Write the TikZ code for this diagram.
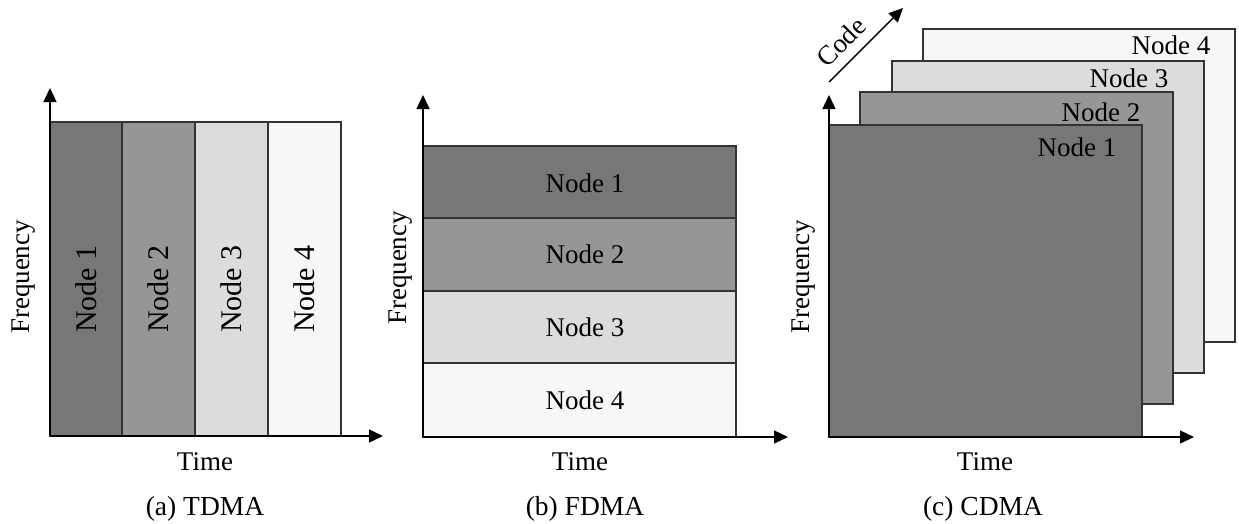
\documentclass[tikz,border=0pt]{standalone}
\usepackage{fontspec}
\setmainfont{Liberation Serif}
\usetikzlibrary{arrows.meta}
\definecolor{gA}{HTML}{777777}
\definecolor{gB}{HTML}{969696}
\definecolor{gC}{HTML}{DCDCDC}
\definecolor{gD}{HTML}{F7F7F7}
\definecolor{edge}{HTML}{333333}
\begin{document}
\begin{tikzpicture}[x=1pt,y=-1pt,
  axis/.style={line width=1.4pt,-{Triangle[length=14pt,width=13pt]}},
  band/.style={draw=edge,line width=1.3pt},
  lbl/.style={font=\fontsize{27}{32}\selectfont,inner sep=0pt},
  biglbl/.style={font=\fontsize{30}{36}\selectfont,inner sep=0pt,rotate=90},
  captxt/.style={font=\fontsize{27.5}{32}\selectfont,inner sep=0pt,anchor=base}]
\useasboundingbox (0,0) rectangle (1239,523);
% ---------- (a) TDMA ----------
\coordinate (ao) at (50,436);
\coordinate (ay) at (50,88);
\coordinate (ax) at (383,436);
\fill[gA] (50,122) rectangle (122,436);
\fill[gB] (122,122) rectangle (195,436);
\fill[gC] (195,122) rectangle (268,436);
\fill[gD] (268,122) rectangle (341,436);
\draw[band] (50,122) rectangle (341,436);
\draw[band] (122,122) -- (122,436) (195,122) -- (195,436) (268,122) -- (268,436);
\node[biglbl] (a1) at (86,289) {Node 1};
\node[biglbl] (a2) at (158,289) {Node 2};
\node[biglbl] (a3) at (231,289) {Node 3};
\node[biglbl] (a4) at (304,289) {Node 4};
\draw[axis] (ao) -- (ay);
\draw[axis] (ao) -- (ax);
\node[lbl,rotate=90] (af) at (24,277) {Frequency};
\node[lbl,anchor=base] (at) at (205,470) {Time};
\node[captxt] (ac) at (205,515) {(a) TDMA};
% ---------- (b) FDMA ----------
\coordinate (bo) at (423,437);
\coordinate (by) at (423,95);
\coordinate (bx) at (788,437);
\fill[gA] (423,146) rectangle (736,218);
\fill[gB] (423,218) rectangle (736,291);
\fill[gC] (423,291) rectangle (736,363);
\fill[gD] (423,363) rectangle (736,437);
\draw[band] (423,146) rectangle (736,437);
\draw[band] (423,218) -- (736,218) (423,291) -- (736,291) (423,363) -- (736,363);
\node[lbl] (b1) at (585,183) {Node 1};
\node[lbl] (b2) at (585,254) {Node 2};
\node[lbl] (b3) at (585,327) {Node 3};
\node[lbl] (b4) at (585,400) {Node 4};
\draw[axis] (bo) -- (by);
\draw[axis] (bo) -- (bx);
\node[lbl,rotate=90] (bf) at (401,268) {Frequency};
\node[lbl,anchor=base] (bt) at (580,470) {Time};
\node[captxt] (bc) at (585,515) {(b) FDMA};
% ---------- (c) CDMA ----------
\coordinate (co) at (829,437);
\coordinate (cy) at (829,95);
\coordinate (cx) at (1194,437);
\coordinate (cs) at (829,82);
\coordinate (ce) at (903,8);
\draw[band,fill=gD] (923,29) rectangle (1235,342);
\draw[band,fill=gC] (892,61) rectangle (1204,373);
\draw[band,fill=gB] (860,92) rectangle (1173,404);
\draw[band,fill=gA] (829,125) rectangle (1142,437);
\node[lbl] (c4) at (1171,45) {Node 4};
\node[lbl] (c3) at (1129,78) {Node 3};
\node[lbl] (c2) at (1101,112) {Node 2};
\node[lbl] (c1) at (1077,147) {Node 1};
\draw[axis] (co) -- (cy);
\draw[axis] (co) -- (cx);
\draw[axis] (cs) -- (ce);
\node[lbl,rotate=45] (cc) at (841,42) {Code};
\node[lbl,rotate=90] (cf) at (804,277) {Frequency};
\node[lbl,anchor=base] (ct) at (985,470) {Time};
\node[captxt] (ccap) at (983,515) {(c) CDMA};
\end{tikzpicture}
\end{document}
